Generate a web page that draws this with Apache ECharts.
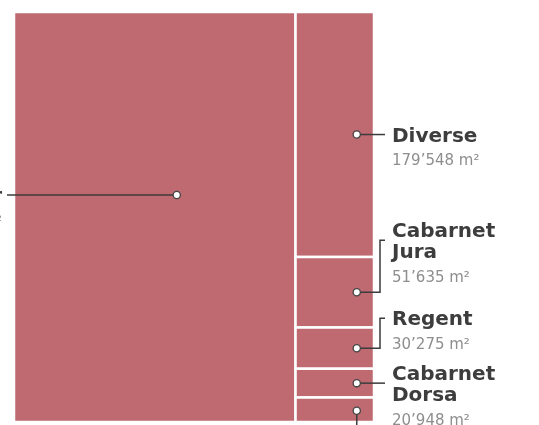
<!DOCTYPE html>
<html>
<head>
<meta charset="utf-8">
<script src="https://cdn.jsdelivr.net/npm/echarts@6/dist/echarts.min.js"></script>
<style>
html, body { margin: 0; padding: 0; background: #fff; }
#main { width: 539px; height: 425px; }
</style>
</head>
<body>
<div id="main"></div>
<script>
// vineyard area per grape variety (m²)
var names = ['Pinot Noir', 'Diverse', 'Cabarnet\nJura', 'Regent', 'Cabarnet\nDorsa', 'Gamaret'];
var areas = [1077900, 179548, 51635, 30275, 20948, 18000];

// how each label hangs off its block
var callouts = [
	{ type : 'left', dx : 22, dy : -22 },
	{ type : 'straight', dx : 22, dy : 0 },
	{ type : 'elbow', dx : 22, dy : 0, rise : -52 },
	{ type : 'elbow', dx : 22, dy : 0, rise : -30 },
	{ type : 'straight', dx : 22, dy : 0 },
	{ type : 'down', dx : 22, dy : 1 }
];

function fmt(v) {
	return String(v).replace(/\B(?=(\d{3})+(?!\d))/g, '\u2019') + ' m\u00b2';
}

// slice layout: biggest block on the left, the rest stacked on the right
var total = areas.reduce(function(a, b) { return a + b; }, 0);
var colTotal = total - areas[0];
var split = areas[0] / total;
var cells = [[0, split, 0, 1, areas[0]]];
var acc = 0;
for (var i = 1; i < areas.length; i++) {
	cells.push([split, 1, acc / colTotal, (acc + areas[i]) / colTotal, areas[i]]);
	acc += areas[i];
}

var lineColor = '#3b3b3b';

function renderItem(params, api) {
	var i = params.dataIndex;
	var p0 = api.coord([api.value(0), api.value(2)]);
	var p1 = api.coord([api.value(1), api.value(3)]);
	var x = p0[0], y = p0[1], w = p1[0] - p0[0], h = p1[1] - p0[1];
	var c = callouts[i];
	var dotX = x + w / 2 + c.dx, dotY = y + h / 2 + c.dy;
	var right = p1[0];
	var pts, tx, ty, align = 'left';
	if (c.type === 'left') {
		pts = [[dotX, dotY], [7, dotY]];
		tx = 2; ty = dotY; align = 'right';
	} else if (c.type === 'straight') {
		pts = [[dotX, dotY], [right + 11, dotY]];
		tx = right + 18; ty = dotY;
	} else if (c.type === 'elbow') {
		pts = [[dotX, dotY], [right + 6, dotY], [right + 6, dotY + c.rise], [right + 11, dotY + c.rise]];
		tx = right + 18; ty = dotY + c.rise;
	} else {
		pts = [[dotX, dotY], [dotX, dotY + 40]];
		tx = dotX - 10; ty = dotY + 55;
	}
	var lines = names[i].split('\n').length;
	return {
		type : 'group',
		children : [ {
			type : 'rect',
			shape : { x : x, y : y, width : w, height : h },
			style : { fill : '#bf6970', stroke : '#fff', lineWidth : 2.5 }
		}, {
			type : 'polyline',
			shape : { points : pts },
			style : { fill : null, stroke : lineColor, lineWidth : 1.5 }
		}, {
			type : 'circle',
			shape : { cx : dotX, cy : dotY, r : 3.6 },
			style : { fill : '#fff', stroke : '#444', lineWidth : 1.3 }
		}, {
			type : 'text',
			style : {
				x : tx, y : ty + 2,
				text : names[i],
				fill : '#3d3d3d',
				font : 'bold 20px "DejaVu Sans"',
				lineHeight : 21,
				align : align,
				verticalAlign : 'middle'
			}
		}, {
			type : 'text',
			style : {
				x : tx, y : ty + lines * 10.5 + 16.5,
				text : fmt(api.value(4)),
				fill : '#8e8e8e',
				font : '15px "DejaVu Sans"',
				align : align,
				verticalAlign : 'middle'
			}
		} ]
	};
}

var myChart = echarts.init(document.getElementById('main'));
var option = {
	animation : false,
	grid : {
		left : 14,
		top : 12,
		width : 360,
		height : 410
	},
	xAxis : {
		type : 'value',
		min : 0,
		max : 1,
		show : false
	},
	yAxis : {
		type : 'value',
		min : 0,
		max : 1,
		inverse : true,
		show : false
	},
	series : [ {
		type : 'custom',
		renderItem : renderItem,
		clip : false,
		encode : { x : [0, 1], y : [2, 3] },
		data : cells
	} ]
};
myChart.setOption(option);
</script>
</body>
</html>
